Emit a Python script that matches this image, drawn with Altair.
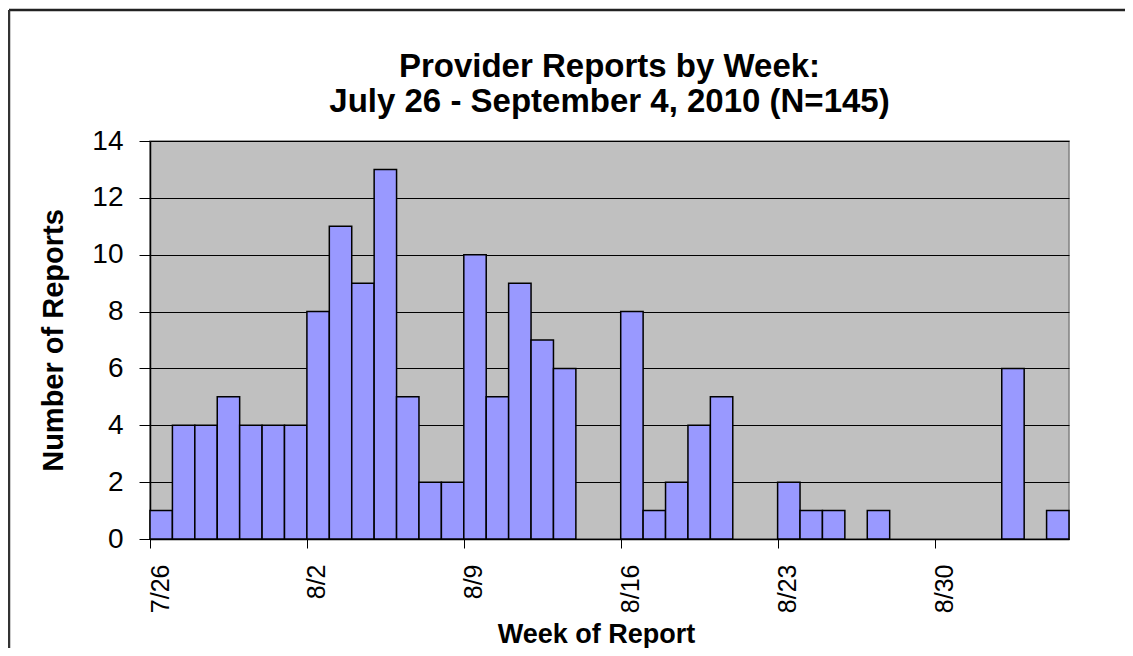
import altair as alt
import pandas as pd

# Daily categories (7/26 .. 9/4, 2010) and report counts
day_labels = ["7/26", "7/27", "7/28", "7/29", "7/30", "7/31", "8/1",
              "8/2", "8/3", "8/4", "8/5", "8/6", "8/7", "8/8",
              "8/9", "8/10", "8/11", "8/12", "8/13", "8/14", "8/15",
              "8/16", "8/17", "8/18", "8/19", "8/20", "8/21", "8/22",
              "8/23", "8/24", "8/25", "8/26", "8/27", "8/28", "8/29",
              "8/30", "8/31", "9/1", "9/2", "9/3", "9/4"]
counts = [1, 4, 4, 5, 4, 4, 4,
          8, 11, 9, 13, 5, 2, 2,
          10, 5, 9, 7, 6, 0, 0,
          8, 1, 2, 4, 5, 0, 0,
          2, 1, 1, 0, 1, 0, 0,
          0, 0, 0, 6, 0, 1]
week_labels = ["7/26", "8/2", "8/9", "8/16", "8/23", "8/30"]
y_ticks = [0, 2, 4, 6, 8, 10, 12, 14]
title_lines = ["Provider Reports by Week:", "July 26 - September 4, 2010 (N=145)"]

df = pd.DataFrame({"label": day_labels, "count": counts})
df["day"] = range(len(df))
df["day_end"] = df["day"] + 1

week_expr = "[" + ",".join("'" + w + "'" for w in week_labels) + "][round(datum.value / 7)]"

FONT = "Liberation Sans"
W, H = 919, 398

bars = alt.Chart(df).transform_filter("datum.count > 0").mark_rect(
    fill="#9999FF", stroke="#000000", strokeWidth=1.5
).encode(
    x=alt.X("day:Q", scale=alt.Scale(domain=[0, len(day_labels)], nice=False, zero=False),
            axis=alt.Axis(values=[0, 7, 14, 21, 28, 35], labelExpr=week_expr,
                          labelAngle=270, labelAlign="right", labelBaseline="middle",
                          labelOffset=10, labelFontSize=25, labelFont=FONT, labelColor="#000",
                          labelPadding=16, tickSize=9, tickColor="#000", domainColor="#000",
                          domainWidth=1.5, grid=False,
                          title="Week of Report", titleFont=FONT, titleFontSize=27,
                          titleFontWeight="bold", titleColor="#000",
                          titleX=446, titleY=103, titleBaseline="alphabetic",
                          titleAlign="center")),
    x2="day_end:Q",
    y=alt.Y("count:Q", scale=alt.Scale(domain=[0, 14], nice=False),
            axis=alt.Axis(values=y_ticks, labelFontSize=28, labelFont=FONT, labelColor="#000",
                          labelPadding=16, tickSize=11, tickColor="#000", domainColor="#000",
                          domainWidth=1.5, grid=True, gridColor="#000", gridWidth=1,
                          title="Number of Reports", titleFont=FONT, titleFontSize=29,
                          titleFontWeight="bold", titleColor="#000", titleAngle=270,
                          titleX=-88, titleY=H / 2, titleBaseline="alphabetic",
                          titleAlign="center")),
    y2=alt.datum(0),
)

one_row = pd.DataFrame({"k": [0]})
top_line = alt.Chart(one_row).mark_rule(color="#222", strokeWidth=2.5).encode(
    x=alt.value(-141), x2=alt.value(975), y=alt.value(-131)
)
left_line = alt.Chart(one_row).mark_rule(color="#333", strokeWidth=2.5).encode(
    x=alt.value(-141), y=alt.value(-131), y2=alt.value(507)
)

title_df = pd.DataFrame({"line": title_lines, "row": [0, 1]})
title = alt.Chart(title_df).mark_text(
    font=FONT, fontSize=33, fontWeight="bold", color="#000",
    align="center", baseline="alphabetic"
).encode(
    text="line:N",
    x=alt.value(W / 2),
    y=alt.Y("row:Q", scale=alt.Scale(domain=[0, 1], range=[-64, -29]), axis=None),
)

chart = alt.layer(bars, top_line, left_line, title).resolve_scale(y="independent").properties(
    width=W, height=H,
    autosize=alt.AutoSizeParams(type="none"),
    padding={"left": 142, "top": 133, "right": 56, "bottom": 109},
    background="#FFFFFF",
).configure_view(
    fill="#C0C0C0", stroke="#808080", strokeWidth=1.5
)

chart.save("out.html", embed_options={"renderer": "svg", "actions": False})
